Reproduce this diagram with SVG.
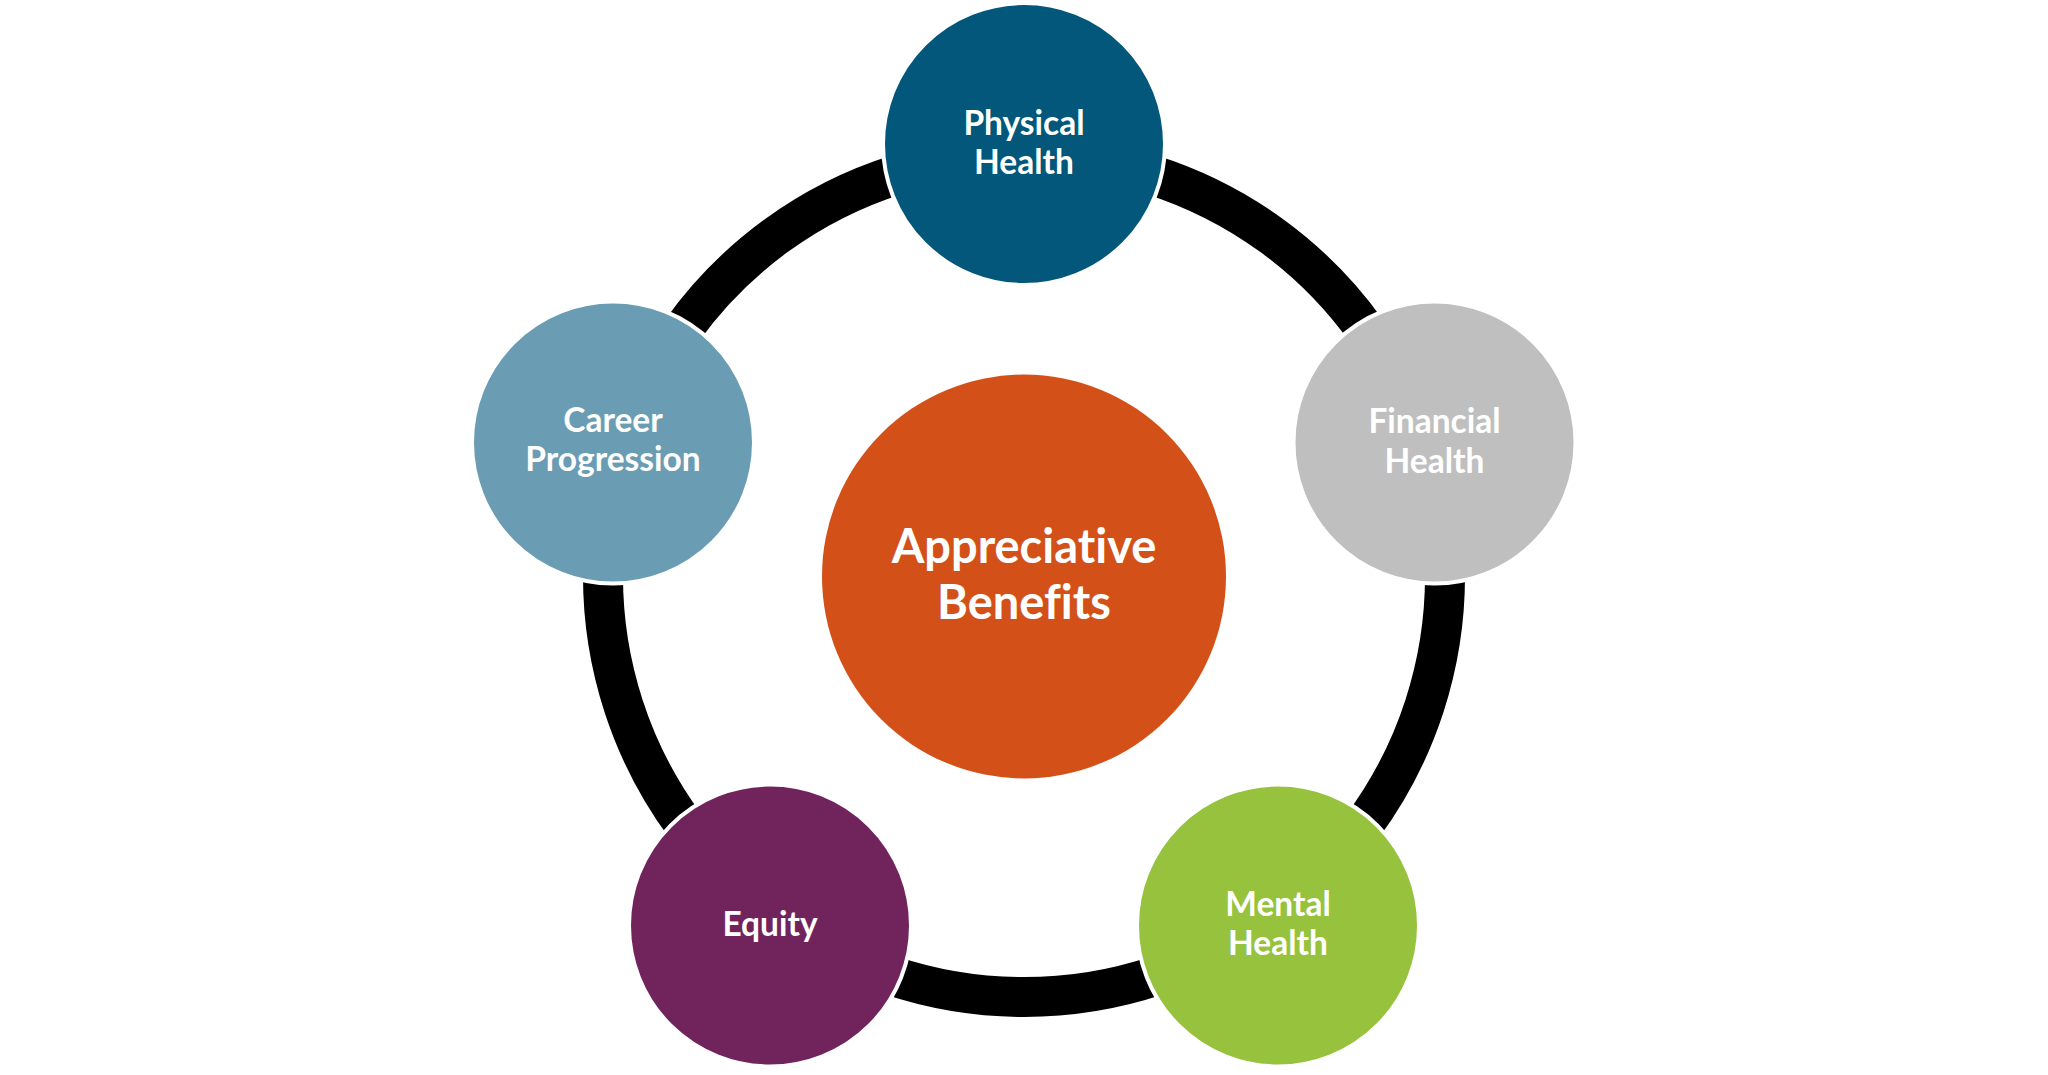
<svg xmlns="http://www.w3.org/2000/svg" width="2048" height="1075" viewBox="0 0 2048 1075">
  <style>
    .ring { fill: none; stroke: #000000; stroke-width: 40; }
    .node { stroke: #FFFFFF; stroke-width: 4; }
    .lbl { font-family: "Lato", "Open Sans", "Liberation Sans", sans-serif; font-weight: 700; fill: #FFFFFF; text-anchor: middle; font-size: 33.5px; font-variant-ligatures: none; }
    .big { font-size: 47px; }
  </style>
  <rect x="0" y="0" width="2048" height="1075" fill="#FFFFFF"/>
  <g id="connectors">
    <path class="ring" d="M 1024 155 A 421 421 0 0 1 1424.4 445.9"/>
    <path class="ring" d="M 1424.4 445.9 A 421 421 0 0 1 1271.5 916.6"/>
    <path class="ring" d="M 1271.5 916.6 A 421 421 0 0 1 776.5 916.6"/>
    <path class="ring" d="M 776.5 916.6 A 421 421 0 0 1 623.6 445.9"/>
    <path class="ring" d="M 623.6 445.9 A 421 421 0 0 1 1024 155"/>
  </g>
  <g id="center-appreciative-benefits">
    <circle cx="1024" cy="576.5" r="202" fill="#D35119"/>
    <text class="lbl big" x="1024" y="563">Appreciative</text>
    <text class="lbl big" x="1024" y="619">Benefits</text>
  </g>
  <g id="node-physical-health">
    <circle class="node" cx="1024" cy="144" r="141" fill="#02577A"/>
    <text class="lbl" x="1024" y="135">Physical</text>
    <text class="lbl" x="1024" y="174">Health</text>
  </g>
  <g id="node-financial-health">
    <circle class="node" cx="1434.5" cy="442.5" r="141" fill="#BFBFBF"/>
    <text class="lbl" x="1434.5" y="433">Financial</text>
    <text class="lbl" x="1434.5" y="473">Health</text>
  </g>
  <g id="node-mental-health">
    <circle class="node" cx="1278" cy="925.5" r="141" fill="#97C23D"/>
    <text class="lbl" x="1278" y="916">Mental</text>
    <text class="lbl" x="1278" y="955">Health</text>
  </g>
  <g id="node-equity">
    <circle class="node" cx="770" cy="925.5" r="141" fill="#71235C"/>
    <text class="lbl" x="770" y="936">Equity</text>
  </g>
  <g id="node-career-progression">
    <circle class="node" cx="613" cy="442.5" r="141" fill="#6A9DB3"/>
    <text class="lbl" x="613" y="432">Career</text>
    <text class="lbl" x="613" y="471">Progression</text>
  </g>
</svg>
